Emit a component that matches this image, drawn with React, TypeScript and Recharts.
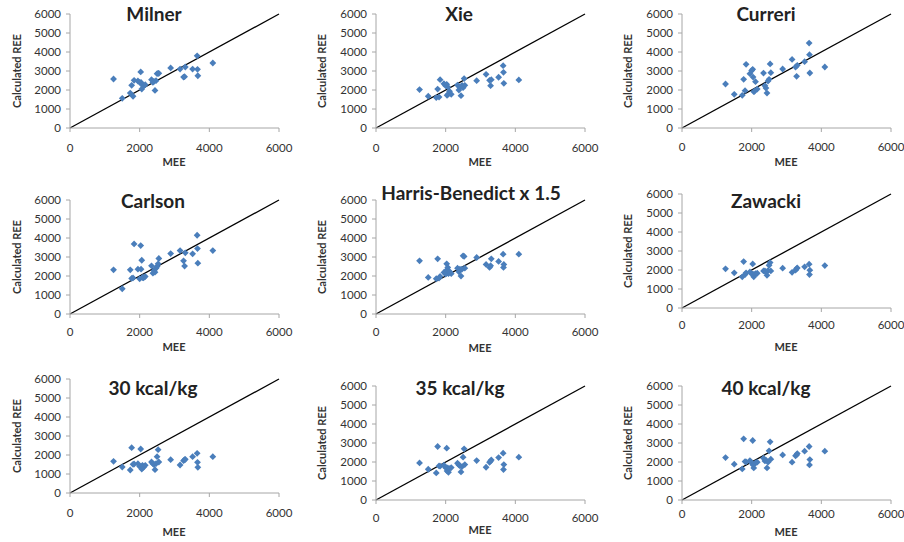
import React from 'react';
import { ScatterChart, Scatter, XAxis, YAxis, ReferenceLine } from 'recharts';

// Measured energy expenditure (shared x values, one per patient)
const MEE = [1250, 1500, 1730, 1770, 1810, 1840, 1950, 2000, 2030, 2040, 2060, 2080, 2110, 2160, 2340, 2380,
  2410, 2440, 2470, 2500, 2530, 2550, 2890, 3160, 3260, 3290, 3310, 3520, 3650, 3660, 3670, 4100];

const milner = [2580, 1560, 1840, 2245, 1670, 2510, 2475, 2400, 2950, 2400, 2050, 2280, 2200, 2280, 2545, 2400,
  2455, 1980, 2490, 2860, 2880, 2880, 3160, 3100, 2680, 2700, 3210, 3100, 3800, 3090, 2750, 3420];
const xie = [2020, 1670, 1600, 2050, 1630, 2545, 2330, 2230, 2300, 1720, 2160, 1790, 1930, 1770, 2260, 2000,
  2140, 1700, 2245, 2120, 2600, 2245, 2490, 2825, 2510, 2230, 2545, 2670, 3280, 2930, 2350, 2530];
const curreri = [2316, 1772, 1720, 2560, 1965, 3350, 2860, 3020, 3090, 2680, 1910, 1930, 2440, 2050, 2890, 2230,
  2100, 1840, 2470, 2560, 3370, 2910, 3105, 3610, 3210, 2720, 3300, 3490, 4470, 3860, 2895, 3210];
const carlson = [2326, 1330, 2326, 1870, 1900, 3690, 2360, 1850, 3600, 2360, 2830, 1920, 1900, 1975, 2536, 2150,
  2290, 2200, 2414, 2500, 2640, 2920, 3180, 3340, 2800, 2520, 3220, 3166, 4145, 3445, 2676, 3340];
const harrisBenedict = [2800, 1925, 1855, 2905, 1890, 1980, 2190, 2100, 2640, 2330, 2450, 2120, 2240, 2120, 2414, 2220,
  2360, 1995, 2360, 3060, 3030, 2414, 2975, 2610, 2450, 2540, 2905, 2765, 3150, 2450, 2610, 3150];
const zawacki = [2060, 1850, 1640, 2445, 1760, 1850, 1900, 1800, 2320, 1780, 1640, 1740, 1810, 1830, 1950, 1950,
  1900, 1720, 1970, 2250, 2390, 1950, 2094, 1880, 1990, 2075, 2110, 2165, 2305, 1760, 1990, 2235];
const kcal30 = [1667, 1368, 1210, 2386, 1509, 1526, 1544, 1400, 2316, 1368, 1263, 1456, 1350, 1456, 1632, 1544,
  1500, 1228, 1544, 1912, 2281, 1632, 1754, 1474, 1702, 1750, 1772, 1912, 2088, 1614, 1351, 1912];
const kcal35 = [1953, 1619, 1425, 2815, 1795, 1780, 1830, 1700, 2727, 1530, 1690, 1460, 1654, 1707, 1935, 1848,
  1800, 1478, 1760, 2252, 2692, 1865, 2076, 1724, 1988, 2050, 2111, 2235, 2463, 1601, 1865, 2252];
const kcal40 = [2235, 1883, 1636, 3220, 2024, 2006, 2076, 1950, 3132, 1848, 1690, 1900, 1953, 1990, 2200, 2059,
  2100, 1690, 1990, 2587, 3062, 2147, 2375, 1990, 2323, 2375, 2446, 2570, 2815, 1848, 2129, 2570];

const titles = ['Milner', 'Xie', 'Curreri', 'Carlson', 'Harris-Benedict x 1.5', 'Zawacki', '30 kcal/kg', '35 kcal/kg', '40 kcal/kg'];
const seriesList = [milner, xie, curreri, carlson, harrisBenedict, zawacki, kcal30, kcal35, kcal40];
const xTicks = [0, 2000, 4000, 6000];
const yTicks = [0, 1000, 2000, 3000, 4000, 5000, 6000];

// layout: plot area boxes and label positions
const layout = [
  { L: 70, R: 279, T: 14, B: 128, tm: 12, title: [154, 14], xl: [174, 162], yl: 17 },
  { L: 376, R: 585, T: 14, B: 128, tm: 12, title: [459, 14], xl: [480, 162], yl: 322 },
  { L: 682, R: 891, T: 14, B: 128, tm: 11, title: [766, 14], xl: [786, 162], yl: 628 },
  { L: 70, R: 279, T: 200, B: 314, tm: 10, title: [153, 201], xl: [174, 347], yl: 17 },
  { L: 376, R: 585, T: 200, B: 314, tm: 10, title: [471, 193], xl: [480, 348], yl: 322 },
  { L: 682, R: 891, T: 194, B: 308, tm: 9, title: [766, 201], xl: [786, 347], yl: 628 },
  { L: 70, R: 279, T: 379, B: 493, tm: 12, title: [153, 388], xl: [174, 532], yl: 17 },
  { L: 376, R: 585, T: 386, B: 500, tm: 10, title: [460, 388], xl: [480, 530], yl: 322 },
  { L: 682, R: 891, T: 386, B: 500, tm: 6, title: [766, 388], xl: [786, 532], yl: 628 },
];

const FONT = 'Lato, "Open Sans", sans-serif';
const MARK = '#4a7ebb';
const AXIS = '#a6a6a6';

const Diamond = (props: any) => {
  const { cx, cy } = props;
  if (cx == null || cy == null) return null;
  const r = 3.4;
  return <polygon points={`${cx},${cy - r} ${cx + r},${cy} ${cx},${cy + r} ${cx - r},${cy}`} fill={MARK} />;
};

const Panel = ({ idx }: { idx: number }) => {
  const g = layout[idx];
  const ys = seriesList[idx];
  const data = MEE.map((x, i) => ({ x, y: ys[i] }));
  const mTop = 10, mRight = 22, yW = 70, xH = 40;
  const W = g.R - g.L + yW + mRight;
  const H = g.B - g.T + mTop + xH;
  const tick = { fontSize: 11.5, fill: '#333', fontFamily: FONT };
  return (
    <>
      <div style={{ position: 'absolute', left: g.L - yW, top: g.T - mTop }}>
        <ScatterChart width={W} height={H} margin={{ top: mTop, right: mRight, bottom: 0, left: 0 }}>
          <XAxis type="number" dataKey="x" domain={[0, 6000]} ticks={xTicks} height={xH}
            tick={tick} tickSize={4} tickMargin={g.tm} stroke={AXIS} interval={0} allowDataOverflow />
          <YAxis type="number" dataKey="y" domain={[0, 6000]} ticks={yTicks} width={yW}
            tick={tick} tickSize={4} tickMargin={5} stroke={AXIS} interval={0} allowDataOverflow />
          <ReferenceLine segment={[{ x: 0, y: 0 }, { x: 6000, y: 6000 }]} stroke="#000" strokeWidth={1.3} />
          <Scatter data={data} shape={Diamond} isAnimationActive={false} />
        </ScatterChart>
      </div>
      <div style={{ position: 'absolute', left: g.title[0] - 150, top: g.title[1] - 13, width: 300, textAlign: 'center',
        fontFamily: FONT, fontWeight: 700, fontSize: 19, lineHeight: '26px', color: '#222', whiteSpace: 'nowrap' }}>
        {titles[idx]}
      </div>
      <div style={{ position: 'absolute', left: g.xl[0] - 50, top: g.xl[1] - 8, width: 100, textAlign: 'center',
        fontFamily: FONT, fontWeight: 700, fontSize: 11, lineHeight: '16px', color: '#333' }}>
        MEE
      </div>
      <div style={{ position: 'absolute', left: g.yl - 60, top: (g.T + g.B) / 2 - 8, width: 120, textAlign: 'center',
        transform: 'rotate(-90deg)', fontFamily: FONT, fontWeight: 700, fontSize: 11, lineHeight: '16px', color: '#333',
        whiteSpace: 'nowrap' }}>
        Calculated REE
      </div>
    </>
  );
};

export default function App() {
  return (
    <div style={{ position: 'absolute', left: 0, top: 0, width: 904, height: 542, background: '#fff', overflow: 'hidden' }}>
      {titles.map((_, i) => <Panel key={i} idx={i} />)}
    </div>
  );
}
